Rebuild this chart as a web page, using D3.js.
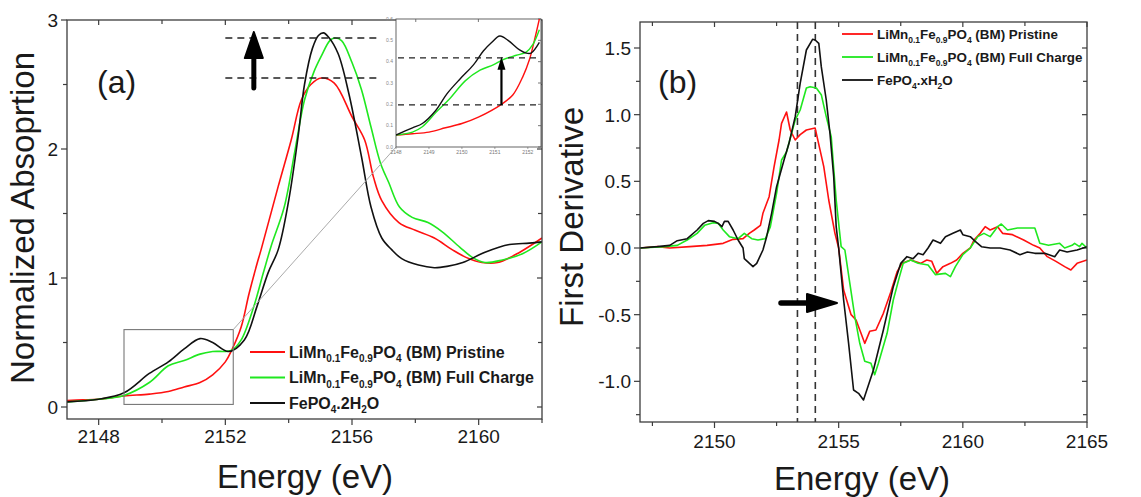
<!DOCTYPE html>
<html>
<head>
<meta charset="utf-8">
<script src="https://cdn.jsdelivr.net/npm/d3@7"></script>
<style>
  html, body { margin: 0; padding: 0; background: #fff; }
  svg { display: block; }
  text { font-family: "Liberation Sans", Arial, Helvetica, sans-serif; fill: #1a1a1a; }
</style>
</head>
<body>
<svg id="chart" width="1141" height="497"></svg>
<script>
// ---------- Panel (a): normalized XANES absorption ----------
const pristineE_a = [2147, 2147.5, 2148, 2148.8, 2149.6, 2150.2, 2150.7, 2151.2, 2151.6, 2152.0, 2152.2, 2152.5, 2152.75, 2153.0, 2153.13, 2153.67, 2154.08, 2154.4, 2154.7, 2155.03, 2155.44, 2156.0, 2156.4, 2156.68, 2156.94, 2157.48, 2158.0, 2158.6, 2159.16, 2159.6, 2160.1, 2160.6, 2161.3, 2162];
const pristineA   = [0.05, 0.055, 0.06, 0.085, 0.10, 0.12, 0.155, 0.19, 0.25, 0.35, 0.44, 0.62, 0.88, 1.11, 1.22, 1.71, 2.07, 2.38, 2.50, 2.55, 2.51, 2.25, 2.07, 1.78, 1.60, 1.43, 1.37, 1.31, 1.22, 1.16, 1.12, 1.12, 1.20, 1.31];

const chargedE_a = [2147, 2148, 2148.8, 2149.6, 2150.2, 2150.7, 2151.2, 2151.6, 2152.2, 2152.5, 2152.9, 2153.2, 2153.45, 2153.86, 2154.2, 2154.5, 2154.8, 2155.03, 2155.3, 2155.45, 2155.67, 2156.0, 2156.3, 2156.6, 2156.9, 2157.16, 2157.5, 2157.9, 2158.4, 2158.84, 2159.4, 2159.8, 2160.2, 2160.75, 2161.4, 2162];
const chargedA   = [0.04, 0.06, 0.09, 0.19, 0.32, 0.36, 0.41, 0.43, 0.44, 0.52, 0.78, 1.04, 1.25, 1.55, 1.99, 2.38, 2.60, 2.72, 2.84, 2.86, 2.84, 2.67, 2.46, 2.17, 1.89, 1.74, 1.55, 1.47, 1.43, 1.36, 1.24, 1.16, 1.12, 1.14, 1.19, 1.28];

const refE_a = [2147, 2148, 2148.8, 2149.6, 2150.2, 2150.7, 2151.2, 2151.6, 2152.1, 2152.6, 2153.0, 2153.35, 2153.67, 2154.0, 2154.3, 2154.5, 2154.75, 2154.94, 2155.1, 2155.25, 2155.56, 2155.9, 2156.3, 2156.6, 2156.94, 2157.25, 2157.57, 2158.1, 2158.6, 2159.0, 2159.5, 2160.2, 2160.97, 2161.6, 2162];
const refA   = [0.04, 0.06, 0.11, 0.26, 0.35, 0.45, 0.53, 0.50, 0.43, 0.52, 0.78, 1.04, 1.22, 1.60, 2.10, 2.50, 2.78, 2.88, 2.90, 2.87, 2.74, 2.43, 1.94, 1.55, 1.31, 1.22, 1.15, 1.10, 1.08, 1.09, 1.12, 1.20, 1.26, 1.27, 1.28];

// pre-edge enlargement shown in the inset
const pristineE_in = [2148.0, 2148.5, 2149.0, 2149.5, 2150.0, 2150.5, 2151.2, 2151.55, 2151.85, 2152.05, 2152.2, 2152.35];
const pristineA_in = [0.056, 0.062, 0.07, 0.09, 0.11, 0.14, 0.20, 0.245, 0.33, 0.41, 0.50, 0.60];
const chargedE_in = [2148.0, 2148.5, 2148.8, 2149.2, 2149.65, 2150.1, 2150.55, 2150.95, 2151.25, 2151.65, 2151.95, 2152.15, 2152.35];
const chargedA_in = [0.056, 0.07, 0.095, 0.16, 0.23, 0.31, 0.36, 0.385, 0.41, 0.43, 0.445, 0.48, 0.55];
const refE_in = [2148.0, 2148.5, 2148.8, 2149.2, 2149.55, 2149.95, 2150.35, 2150.65, 2150.9, 2151.15, 2151.4, 2151.75, 2151.95, 2152.1, 2152.35];
const refA_in = [0.056, 0.09, 0.11, 0.17, 0.25, 0.32, 0.385, 0.45, 0.49, 0.52, 0.50, 0.455, 0.44, 0.44, 0.49];

// ---------- Panel (b): first derivative ----------
const pristineE_b = [2147, 2147.7, 2148.2, 2149.0, 2149.7, 2150.35, 2150.75, 2151.15, 2151.4, 2151.6, 2151.85, 2151.95, 2152.2, 2152.4, 2152.6, 2152.7, 2152.9, 2153.05, 2153.25, 2153.45, 2153.7, 2154.05, 2154.1, 2154.4, 2154.6, 2154.85, 2155.0, 2155.2, 2155.5, 2155.7, 2155.9, 2156.05, 2156.25, 2156.5, 2156.8, 2157.1, 2157.35, 2157.55, 2157.9, 2158.3, 2158.55, 2158.75, 2158.95, 2159.2, 2159.5, 2159.75, 2160.0, 2160.3, 2160.45, 2160.7, 2160.9, 2161.1, 2161.4, 2161.6, 2162.0, 2162.45, 2162.85, 2163.1, 2163.4, 2163.75, 2164.1, 2164.35, 2164.6, 2165];
const pristineD   = [0, 0.01, 0, 0.01, 0.02, 0.035, 0.065, 0.07, 0.11, 0.135, 0.17, 0.26, 0.385, 0.61, 0.81, 0.935, 1.02, 0.885, 0.81, 0.85, 0.885, 0.9, 0.86, 0.61, 0.36, 0.11, 0, -0.315, -0.5, -0.54, -0.64, -0.715, -0.625, -0.615, -0.49, -0.33, -0.18, -0.115, -0.09, -0.115, -0.09, -0.1, -0.19, -0.14, -0.115, -0.09, -0.04, 0.0, 0.06, 0.11, 0.16, 0.135, 0.16, 0.11, 0.10, 0.06, 0.02, 0, -0.065, -0.10, -0.14, -0.165, -0.115, -0.09];

const chargedE_b = [2147, 2148, 2148.5, 2148.9, 2149.3, 2149.6, 2149.95, 2150.15, 2150.35, 2150.6, 2150.95, 2151.2, 2151.5, 2151.75, 2152.05, 2152.25, 2152.5, 2152.7, 2152.9, 2153.25, 2153.45, 2153.7, 2153.85, 2154.1, 2154.3, 2154.5, 2154.7, 2154.9, 2155.1, 2155.25, 2155.45, 2155.65, 2155.85, 2156.05, 2156.3, 2156.45, 2156.6, 2156.95, 2157.2, 2157.45, 2157.6, 2157.9, 2158.2, 2158.6, 2158.9, 2159.3, 2159.5, 2159.7, 2160.0, 2160.3, 2160.6, 2160.85, 2161.1, 2161.4, 2161.55, 2161.8, 2162.2, 2162.9, 2163.1, 2163.45, 2163.9, 2164.1, 2164.4, 2164.5, 2164.7, 2164.8, 2165];
const chargedD   = [0, 0.01, 0.02, 0.06, 0.11, 0.17, 0.19, 0.185, 0.135, 0.085, 0.07, 0.11, 0.07, 0.06, 0.07, 0.16, 0.41, 0.66, 0.72, 0.96, 1.035, 1.20, 1.21, 1.20, 1.15, 0.985, 0.835, 0.36, 0.01, -0.015, -0.265, -0.515, -0.715, -0.85, -0.865, -0.95, -0.865, -0.64, -0.39, -0.215, -0.115, -0.09, -0.115, -0.128, -0.20, -0.19, -0.215, -0.14, -0.05, 0.0, 0.085, 0.11, 0.085, 0.16, 0.18, 0.135, 0.15, 0.15, 0.035, 0.02, 0.035, 0, 0.02, 0.035, 0.01, 0.035, 0];

const refE_b = [2147, 2147.7, 2148.2, 2148.5, 2148.9, 2149.3, 2149.55, 2149.75, 2150.0, 2150.15, 2150.3, 2150.4, 2150.55, 2150.75, 2150.95, 2151.15, 2151.2, 2151.55, 2151.7, 2151.95, 2152.1, 2152.3, 2152.5, 2152.8, 2153.0, 2153.25, 2153.45, 2153.7, 2153.95, 2154.05, 2154.2, 2154.3, 2154.5, 2154.65, 2154.8, 2154.9, 2155.0, 2155.2, 2155.4, 2155.6, 2155.8, 2156.0, 2156.4, 2156.8, 2157.2, 2157.5, 2157.75, 2158.0, 2158.2, 2158.4, 2158.6, 2158.8, 2159.1, 2159.3, 2159.6, 2159.9, 2160.0, 2160.3, 2160.5, 2160.75, 2161.1, 2161.5, 2161.9, 2162.3, 2162.6, 2162.9, 2163.3, 2163.7, 2163.9, 2164.2, 2164.6, 2165];
const refD   = [0, 0.01, 0.02, 0.055, 0.07, 0.135, 0.185, 0.205, 0.20, 0.185, 0.16, 0.20, 0.20, 0.135, 0.06, 0.0, -0.08, -0.14, -0.115, -0.015, 0.085, 0.26, 0.46, 0.66, 0.785, 0.985, 1.235, 1.485, 1.565, 1.56, 1.535, 1.36, 1.11, 0.86, 0.535, 0.16, 0, -0.39, -0.715, -1.065, -1.09, -1.14, -0.915, -0.615, -0.29, -0.115, -0.065, -0.08, -0.04, -0.05, 0.0, 0.06, 0.035, 0.085, 0.11, 0.135, 0.10, 0.085, 0.05, 0.01, 0.0, 0.0, -0.015, -0.05, -0.03, -0.04, -0.04, -0.065, -0.015, -0.03, -0.015, 0.01];

// Reference lines and tick values
const plateauLevels = [2.86, 2.55];       // dashed guides, panel (a)
const insetLevels = [0.418, 0.197];       // dashed guides, inset
const edgeMarkers = [2153.34, 2154.06];   // dashed verticals, panel (b)
const zoomBox = { e0: 2148.8, e1: 2152.25, a0: 0.02, a1: 0.6 };

const ticksXa = [2148, 2152, 2156, 2160];
const minorXa = [2150, 2154, 2158, 2162];
const ticksYa = [0, 1, 2, 3];
const minorYa = [0.5, 1.5, 2.5];
const ticksXb = [2150, 2155, 2160, 2165];
const minorXb = [2147.5, 2152.5, 2157.5, 2162.5];
const ticksYb = [-1.0, -0.5, 0.0, 0.5, 1.0, 1.5];
const minorYb = [-1.25, -0.75, -0.25, 0.25, 0.75, 1.25];
const ticksXin = [2148, 2149, 2150, 2151, 2152];
const ticksYin = [0, 0.1, 0.2, 0.3, 0.4, 0.5, 0.6];

const RED = "#ff1010", GREEN = "#1fe81f", BLACK = "#111";

const svg = d3.select("#chart");
const AX = "#3c3c3c";

function frame(g, x, y) {
  const [x0, x1] = x.range(), [y0, y1] = y.range();
  g.append("rect").attr("x", x0).attr("y", y1).attr("width", x1 - x0).attr("height", y0 - y1)
    .attr("fill", "none").attr("stroke", AX).attr("stroke-width", 1.3);
}

function ticks(g, x, y, o) {
  const [x0, x1] = x.range(), [yb, yt] = y.range();
  const tick = (x1_, y1_, x2_, y2_) => g.append("line").attr("x1", x1_).attr("y1", y1_).attr("x2", x2_).attr("y2", y2_)
    .attr("stroke", AX).attr("stroke-width", 1.2);
  o.xMajor.forEach(v => { const px = x(v); tick(px, yb, px, yb + 6); if (o.topTicks(v)) tick(px, yt, px, yt + 5); });
  o.xMinor.forEach(v => { const px = x(v); tick(px, yb, px, yb + 4); if (o.topTicks(v)) tick(px, yt, px, yt + 4); });
  o.yMajor.forEach(v => { const py = y(v); tick(x0 - 6, py, x0, py); tick(x1 - 5, py, x1, py); });
  o.yMinor.forEach(v => { const py = y(v); tick(x0 - 4, py, x0, py); tick(x1 - 4, py, x1, py); });
  g.selectAll(null).data(o.xMajor).join("text")
    .attr("x", d => x(d)).attr("y", yb + o.xLabelDy).attr("text-anchor", "middle")
    .attr("font-size", 19).text(d => d);
  g.selectAll(null).data(o.yMajor).join("text")
    .attr("x", x0 - 9).attr("y", d => y(d)).attr("dy", "0.36em").attr("text-anchor", "end")
    .attr("font-size", 19).text(o.yFmt);
}

// legend rows: chemical formulas with subscripts built from tspans
function legend(g, x0, y0, rowH, fs, subFs, len, items) {
  const shift = fs * 0.3;
  items.forEach((it, i) => {
    const yy = y0 + i * rowH;
    g.append("line").attr("x1", x0).attr("x2", x0 + len).attr("y1", yy).attr("y2", yy)
      .attr("stroke", it.color).attr("stroke-width", 1.8);
    const t = g.append("text").attr("x", x0 + len + 4).attr("y", yy + fs * 0.35)
      .attr("font-size", fs).attr("font-weight", "bold");
    let lowered = false;
    it.parts.forEach(p => {
      const s = t.append("tspan");
      if (p.sub) {
        s.attr("font-size", subFs).text(p.sub);
        if (!lowered) s.attr("dy", shift);
        lowered = true;
      } else {
        s.text(p.t);
        if (lowered) s.attr("dy", -shift);
        lowered = false;
      }
    });
  });
}

const seriesParts = {
  pristine: [{t: "LiMn"}, {sub: "0.1"}, {t: "Fe"}, {sub: "0.9"}, {t: "PO"}, {sub: "4"}, {t: " (BM) Pristine"}],
  charged:  [{t: "LiMn"}, {sub: "0.1"}, {t: "Fe"}, {sub: "0.9"}, {t: "PO"}, {sub: "4"}, {t: " (BM) Full Charge"}],
};

function drawSeries(g, x, y, E, V, color, curve, width) {
  const line = d3.line().x(d => x(d[0])).y(d => y(d[1])).curve(curve);
  g.append("path").datum(d3.zip(E, V)).attr("d", line)
    .attr("fill", "none").attr("stroke", color).attr("stroke-width", width).attr("stroke-linejoin", "round");
}

// ================= Panel (a) =================
const xa = d3.scaleLinear().domain([2147, 2162]).range([67, 542]);
const ya = d3.scaleLinear().domain([-0.093, 3]).range([419, 20]);
const ga = svg.append("g");
const clipA = svg.append("clipPath").attr("id", "clipA");
clipA.append("rect").attr("x", 67).attr("y", 20).attr("width", 475).attr("height", 399);

ticks(ga, xa, ya, {
  xMajor: ticksXa, xMinor: minorXa, yMajor: ticksYa, yMinor: minorYa,
  topTicks: v => xa(v) < 392, xLabelDy: 24, yFmt: d => d
});

const curvesA = ga.append("g").attr("clip-path", "url(#clipA)");
drawSeries(curvesA, xa, ya, pristineE_a, pristineA, RED, d3.curveCatmullRom, 1.6);
drawSeries(curvesA, xa, ya, chargedE_a, chargedA, GREEN, d3.curveCatmullRom, 1.6);
drawSeries(curvesA, xa, ya, refE_a, refA, BLACK, d3.curveCatmullRom, 1.6);

// zoom box on the pre-edge
ga.append("rect")
  .attr("x", xa(zoomBox.e0)).attr("y", ya(zoomBox.a1))
  .attr("width", xa(zoomBox.e1) - xa(zoomBox.e0)).attr("height", ya(zoomBox.a0) - ya(zoomBox.a1))
  .attr("fill", "none").attr("stroke", "#777").attr("stroke-width", 1.1);

// dashed plateau guides with rising arrow
plateauLevels.forEach(v => {
  ga.append("line").attr("x1", xa(2152)).attr("x2", xa(2156.8)).attr("y1", ya(v)).attr("y2", ya(v))
    .attr("stroke", "#222").attr("stroke-width", 1.5).attr("stroke-dasharray", "7,5");
});
{
  const ax = xa(2152.9), yTop = ya(plateauLevels[0]) - 6, yBot = ya(plateauLevels[1]) + 10;
  ga.append("line").attr("x1", ax).attr("x2", ax).attr("y1", yBot).attr("y2", yTop + 18)
    .attr("stroke", "#000").attr("stroke-width", 5).attr("stroke-linecap", "round");
  ga.append("path").attr("d", `M${ax},${yTop} L${ax - 9},${yTop + 26} L${ax + 9},${yTop + 26} Z`)
    .attr("fill", "#000").attr("stroke", "#000").attr("stroke-width", 2).attr("stroke-linejoin", "round");
}

// inset
const xin = d3.scaleLinear().domain([2148, 2152.4]).range([396, 541]);
const yin = d3.scaleLinear().domain([0, 0.6]).range([147, 19]);
const gin = svg.append("g");
// connector from zoom box to inset
gin.append("line").attr("x1", xa(zoomBox.e1)).attr("y1", ya(zoomBox.a1)).attr("x2", 396).attr("y2", 147)
  .attr("stroke", "#aaa").attr("stroke-width", 1);
gin.append("rect").attr("x", 396).attr("y", 19).attr("width", 145).attr("height", 128)
  .attr("fill", "#fff").attr("stroke", "#555").attr("stroke-width", 0.9);
const clipIn = svg.append("clipPath").attr("id", "clipIn");
clipIn.append("rect").attr("x", 396).attr("y", 19).attr("width", 145).attr("height", 128);
ticksXin.forEach(v => {
  gin.append("line").attr("x1", xin(v)).attr("x2", xin(v)).attr("y1", 147).attr("y2", 149).attr("stroke", "#666").attr("stroke-width", 0.6);
  gin.append("text").attr("x", xin(v)).attr("y", 154).attr("text-anchor", "middle").attr("font-size", 5).style("fill", "#777").text(v);
});
[2148.6, 2150.5].forEach(v => {
  gin.append("line").attr("x1", xin(v)).attr("x2", xin(v)).attr("y1", 19).attr("y2", 22).attr("stroke", "#555").attr("stroke-width", 0.8);
});
ticksYin.forEach(v => {
  gin.append("text").attr("x", 393).attr("y", yin(v)).attr("dy", "0.35em").attr("text-anchor", "end")
    .attr("font-size", 5).style("fill", "#888").text(v.toFixed(1));
  gin.append("line").attr("x1", 538).attr("x2", 541).attr("y1", yin(v)).attr("y2", yin(v)).attr("stroke", "#555").attr("stroke-width", 0.8);
});
const curvesIn = gin.append("g").attr("clip-path", "url(#clipIn)");
drawSeries(curvesIn, xin, yin, pristineE_in, pristineA_in, RED, d3.curveCatmullRom, 1.4);
drawSeries(curvesIn, xin, yin, chargedE_in, chargedA_in, GREEN, d3.curveCatmullRom, 1.4);
drawSeries(curvesIn, xin, yin, refE_in, refA_in, BLACK, d3.curveCatmullRom, 1.4);
insetLevels.forEach(v => {
  gin.append("line").attr("x1", 398).attr("x2", 541).attr("y1", yin(v)).attr("y2", yin(v))
    .attr("stroke", "#222").attr("stroke-width", 1.3).attr("stroke-dasharray", "6,5");
});
{
  const ax = xin(2151.2), yTop = yin(insetLevels[0]) - 1, yBot = yin(insetLevels[1]);
  gin.append("line").attr("x1", ax).attr("x2", ax).attr("y1", yBot).attr("y2", yTop + 10)
    .attr("stroke", "#000").attr("stroke-width", 2.2);
  gin.append("path").attr("d", `M${ax},${yTop} L${ax - 4},${yTop + 13} L${ax + 4},${yTop + 13} Z`).attr("fill", "#000");
}

frame(ga, xa, ya);

legend(ga, 250, 352, 25.5, 16, 10, 35, [
  { color: RED, parts: seriesParts.pristine },
  { color: GREEN, parts: seriesParts.charged },
  { color: BLACK, parts: [{t: "FePO"}, {sub: "4"}, {t: ".2H"}, {sub: "2"}, {t: "O"}] },
]);

ga.append("text").attr("x", 97).attr("y", 93).attr("font-size", 32).text("(a)");
ga.append("text").attr("x", 305).attr("y", 488).attr("text-anchor", "middle").attr("font-size", 33).text("Energy (eV)");
ga.append("text").attr("transform", "translate(34,218) rotate(-90)").attr("text-anchor", "middle")
  .attr("font-size", 33).text("Normalized Absoprtion");

// ================= Panel (b) =================
const xb = d3.scaleLinear().domain([2147, 2165]).range([640, 1087]);
const yb = d3.scaleLinear().domain([-1.305, 1.695]).range([422, 22]);
const gb = svg.append("g");
const clipB = svg.append("clipPath").attr("id", "clipB");
clipB.append("rect").attr("x", 640).attr("y", 22).attr("width", 447).attr("height", 400);

ticks(gb, xb, yb, {
  xMajor: ticksXb, xMinor: minorXb, yMajor: ticksYb, yMinor: minorYb,
  topTicks: () => true, xLabelDy: 26, yFmt: d => (d < 0 ? "-" : "") + Math.abs(d).toFixed(1)
});

edgeMarkers.forEach(v => {
  gb.append("line").attr("x1", xb(v)).attr("x2", xb(v)).attr("y1", 22).attr("y2", 422)
    .attr("stroke", "#333").attr("stroke-width", 1.6).attr("stroke-dasharray", "7,5");
});

const curvesB = gb.append("g").attr("clip-path", "url(#clipB)");
drawSeries(curvesB, xb, yb, pristineE_b, pristineD, RED, d3.curveLinear, 1.6);
drawSeries(curvesB, xb, yb, chargedE_b, chargedD, GREEN, d3.curveLinear, 1.6);
drawSeries(curvesB, xb, yb, refE_b, refD, BLACK, d3.curveLinear, 1.6);

{
  const yA = 303, xStart = 781, xTip = 837, xBase = 807;
  gb.append("line").attr("x1", xStart).attr("x2", xBase + 2).attr("y1", yA).attr("y2", yA)
    .attr("stroke", "#000").attr("stroke-width", 5.5).attr("stroke-linecap", "round");
  gb.append("path").attr("d", `M${xTip},${yA} L${xBase},${yA - 9} L${xBase},${yA + 9} Z`)
    .attr("fill", "#000").attr("stroke", "#000").attr("stroke-width", 2).attr("stroke-linejoin", "round");
}

frame(gb, xb, yb);

legend(gb, 842, 34, 23, 13.4, 8.5, 31, [
  { color: RED, parts: seriesParts.pristine },
  { color: GREEN, parts: seriesParts.charged },
  { color: BLACK, parts: [{t: "FePO"}, {sub: "4"}, {t: ".xH"}, {sub: "2"}, {t: "O"}] },
]);

gb.append("text").attr("x", 658).attr("y", 93).attr("font-size", 32).text("(b)");
gb.append("text").attr("x", 862).attr("y", 490).attr("text-anchor", "middle").attr("font-size", 33).text("Energy (eV)");
gb.append("text").attr("transform", "translate(583,217) rotate(-90)").attr("text-anchor", "middle")
  .attr("font-size", 33).text("First Derivative");
</script>
</body>
</html>
